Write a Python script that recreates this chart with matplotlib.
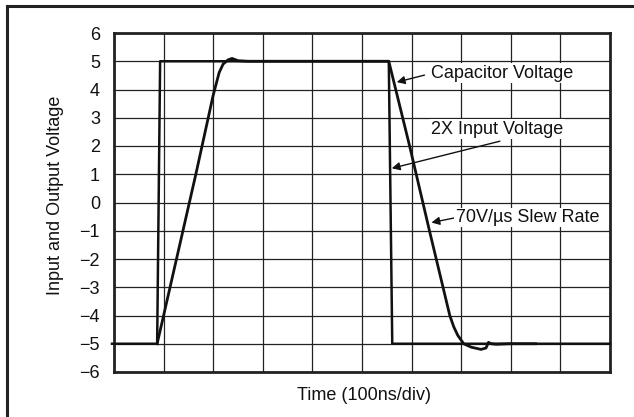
import matplotlib
matplotlib.use('Agg')
import matplotlib.pyplot as plt
from matplotlib.lines import Line2D

# x in divisions (100ns/div), y in volts
input_x = [-0.04, 0.87, 0.93, 5.54, 5.61, 10.0]
input_y = [-5.0, -5.0, 5.0, 5.0, -5.0, -5.0]

cap_x = [0.87, 1.39, 1.65, 2.0, 2.06, 2.12, 2.2, 2.3, 2.38, 2.5, 2.7, 2.95, 5.54,
         5.96, 6.36, 6.77, 6.85, 6.93, 7.05, 7.2, 7.4, 7.5, 7.55, 7.6, 7.7, 8.0, 8.5]
cap_y = [-5.0, -1.0, 1.0, 3.8, 4.2, 4.6, 4.9, 5.05, 5.1, 5.02, 5.0, 5.0, 5.0,
         2.0, -1.0, -4.0, -4.4, -4.7, -5.0, -5.12, -5.2, -5.15, -4.95, -5.0, -5.02, -5.0, -5.0]

y_ticks = list(range(-6, 7))

labels = ["Capacitor Voltage", "2X Input Voltage", "70V/\u00b5s Slew Rate"]
label_pos = [(6.40, 4.58), (6.40, 2.59), (6.89, -0.53)]
arrow_tail = [(6.26, 4.51), (7.78, 2.17), (6.91, -0.53)]
arrow_head = [(5.70, 4.26), (5.60, 1.21), (6.40, -0.71)]

plt.rcParams['font.family'] = ['Liberation Sans', 'DejaVu Sans']
FS = 13

W, H = 634, 417
fig = plt.figure(figsize=(W / 100, H / 100), dpi=100)
ax = fig.add_axes([114 / W, 1 - 372 / H, 496 / W, 339 / H])

ax.set_xlim(0, 10)
ax.set_ylim(-6, 6)
ax.set_xticks(range(0, 11))
ax.set_xticklabels([])
ax.set_yticks(y_ticks)
ax.tick_params(length=0, labelsize=FS, pad=10, labelcolor='#111111')
ax.grid(True, color='#222222', lw=0.9)
ax.set_axisbelow(True)
for s in ax.spines.values():
    s.set_linewidth(2)
    s.set_color('#222222')

ax.plot(input_x, input_y, color='#111111', lw=1.8, clip_on=False, zorder=3)
ax.plot(cap_x, cap_y, color='#111111', lw=2.0, zorder=3)

for txt, pos, tail, head in zip(labels, label_pos, arrow_tail, arrow_head):
    ax.annotate('', xy=head, xytext=tail,
                arrowprops=dict(arrowstyle='-|>', color='#111111', lw=1.0,
                                mutation_scale=12, shrinkA=0, shrinkB=0),
                zorder=4)
    ax.text(pos[0], pos[1], txt, ha='left', va='center', fontsize=FS,
            color='#111111', zorder=5,
            bbox=dict(facecolor='white', edgecolor='none', pad=1.0))

fig.text(364 / W, 1 - 396 / H, "Time (100ns/div)", ha='center', va='center',
         fontsize=FS, color='#111111')
fig.text(56 / W, 1 - 195 / H, "Input and Output Voltage", ha='center', va='center',
         rotation=90, fontsize=FS, color='#111111')

# outer frame (left and top edges visible)
fig.add_artist(Line2D([7 / W, 7 / W], [0, 1 - 6 / H], transform=fig.transFigure,
                      color='#222222', lw=2.2))
fig.add_artist(Line2D([7 / W, 1], [1 - 6 / H, 1 - 6 / H], transform=fig.transFigure,
                      color='#222222', lw=2.2))

fig.savefig('out.png', dpi=100)
